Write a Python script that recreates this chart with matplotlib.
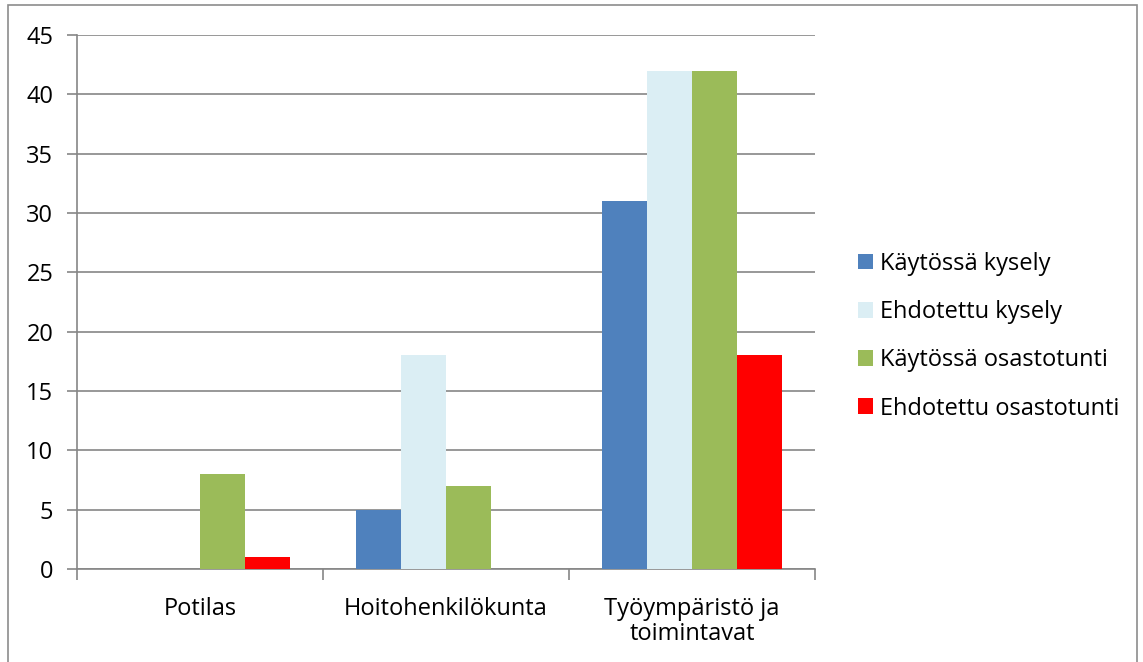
import numpy as np
import matplotlib.pyplot as plt
from matplotlib.patches import Rectangle

categories = ["Potilas", "Hoitohenkilökunta", "Työympäristö ja\ntoimintavat"]
series_names = ["Käytössä kysely", "Ehdotettu kysely", "Käytössä osastotunti", "Ehdotettu osastotunti"]
kaytossa_kysely = [0, 5, 31]
ehdotettu_kysely = [0, 18, 42]
kaytossa_osastotunti = [8, 7, 42]
ehdotettu_osastotunti = [1, 0, 18]
colors = ["#4f81bd", "#dbeef4", "#9bbb59", "#ff0000"]

plt.rcParams['font.family'] = ['Open Sans', 'DejaVu Sans']

fig = plt.figure(figsize=(11.43, 6.62), dpi=100)
# outer chart border
fig.patches.append(Rectangle((8 / 1143, -0.01), (1137 - 8) / 1143, 1 - 5 / 662 + 0.01,
                             transform=fig.transFigure, fill=False, edgecolor="#8c8c8c", lw=1.2))

ax = fig.add_axes([77 / 1143, 1 - 569 / 662, (815 - 77) / 1143, (569 - 35) / 662])

x = np.arange(len(categories))
w = 0.183
all_series = [kaytossa_kysely, ehdotettu_kysely, kaytossa_osastotunti, ehdotettu_osastotunti]
for i, (vals, name, c) in enumerate(zip(all_series, series_names, colors)):
    ax.bar(x + (i - 1.5) * w, vals, w, color=c, label=name, zorder=3)

ax.set_xlim(-0.5, 2.5)
ax.set_ylim(0, 45)
ax.set_yticks(range(0, 46, 5))
ax.grid(axis="y", color="#868686", lw=1.2, zorder=0)
ax.set_xticks([-0.5, 0.5, 1.5, 2.5])
ax.set_xticklabels([])
ax.set_xticks(x, minor=True)
ax.set_xticklabels(categories, minor=True, fontsize=17, linespacing=1.08)
ax.tick_params(axis="x", which="minor", length=0, pad=20)
ax.tick_params(axis="x", which="major", length=8, color="#868686", width=1.2)
ax.tick_params(axis="y", length=7, color="#868686", width=1.2, labelsize=17, pad=10)
for s in ["top", "right"]:
    ax.spines[s].set_visible(False)
for s in ["left", "bottom"]:
    ax.spines[s].set_color("#868686")
    ax.spines[s].set_linewidth(1.2)

ax.legend(loc="center left", bbox_to_anchor=(1.045, 0.436), frameon=False, fontsize=17,
          borderaxespad=0, handlelength=0.65, handleheight=0.65, handletextpad=0.3,
          labelspacing=1.03)

fig.savefig("out.png", dpi=100)
